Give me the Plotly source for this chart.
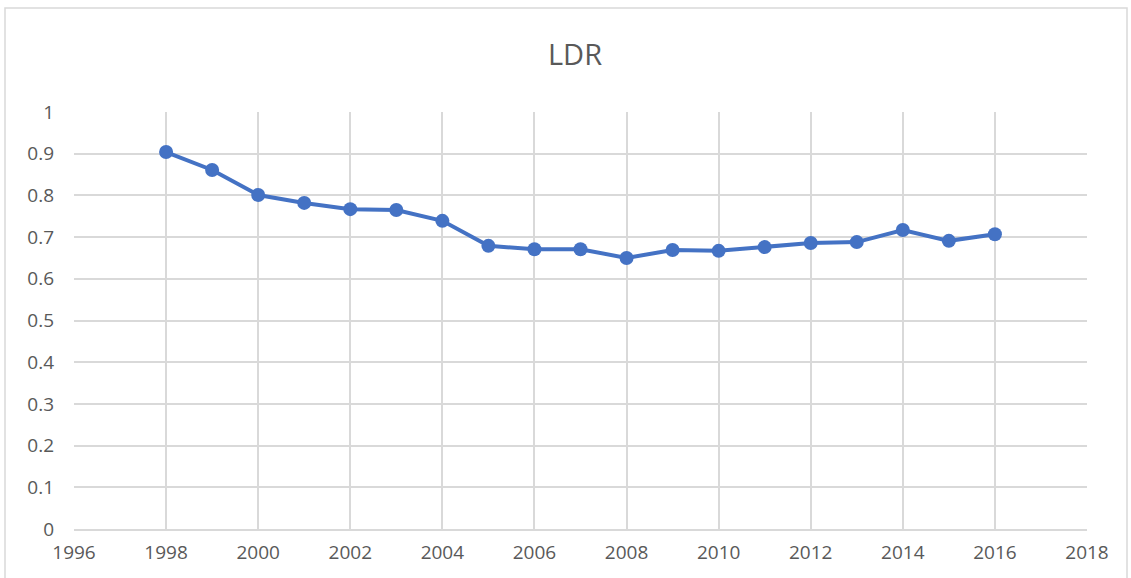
import plotly.graph_objects as go

years = [1998, 1999, 2000, 2001, 2002, 2003, 2004, 2005, 2006, 2007, 2008,
         2009, 2010, 2011, 2012, 2013, 2014, 2015, 2016]
ldr = [0.904, 0.861, 0.801, 0.782, 0.767, 0.765, 0.739, 0.679, 0.671, 0.671, 0.650,
       0.669, 0.667, 0.676, 0.686, 0.688, 0.717, 0.691, 0.707]
y_ticks = [0, 0.1, 0.2, 0.3, 0.4, 0.5, 0.6, 0.7, 0.8, 0.9, 1]
y_labels = ["0", "0.1", "0.2", "0.3", "0.4", "0.5", "0.6", "0.7", "0.8", "0.9", "1"]

W, H = 1131, 578
L, R, T, B = 74, 44, 112, 49
pw, ph = W - L - R, H - T - B

fig = go.Figure()
fig.add_trace(go.Scatter(
    x=years, y=ldr, mode="lines+markers",
    line=dict(color="#4472C4", width=4),
    marker=dict(color="#4472C4", size=14),
    showlegend=False, hoverinfo="x+y"))

fam = "Open Sans, Segoe UI, sans-serif"
font = dict(family=fam, color="#595959", size=19)

fig.update_layout(
    width=W, height=H,
    margin=dict(l=L, r=R, t=T, b=B),
    paper_bgcolor="white", plot_bgcolor="white",
    font=font,
    title=dict(text="LDR", x=575 / W, xanchor="center", y=1 - 55 / H, yanchor="middle",
               font=dict(family=fam, size=29, color="#595959")),
    xaxis=dict(range=[1996, 2018], tickmode="linear", tick0=1996, dtick=2,
               showgrid=True, gridcolor="#D9D9D9", gridwidth=1.5,
               showline=True, linecolor="#D9D9D9", linewidth=1.5, mirror=False,
               zeroline=False, ticks="", ticklabelstandoff=5,
               tickfont=dict(family=fam, size=19, color="#595959")),
    yaxis=dict(range=[0, 1], tickvals=y_ticks, ticktext=y_labels,
               showgrid=True, gridcolor="#D9D9D9", gridwidth=1.5,
               zeroline=False, showline=False, ticks="", ticklabelstandoff=19,
               tickfont=dict(family=fam, size=19, color="#595959")),
)

# chart outer border
fig.add_shape(type="rect", xref="paper", yref="paper",
              x0=(5 - L) / pw, x1=(1127 - L) / pw,
              y0=(H - B - 600) / ph, y1=(H - B - 8) / ph,
              line=dict(color="#D9D9D9", width=1.5), fillcolor="rgba(0,0,0,0)", layer="below")

fig.write_html("out.html", config={"displayModeBar": False},
               post_script="document.body.style.margin='0';document.body.style.overflow='hidden';")
